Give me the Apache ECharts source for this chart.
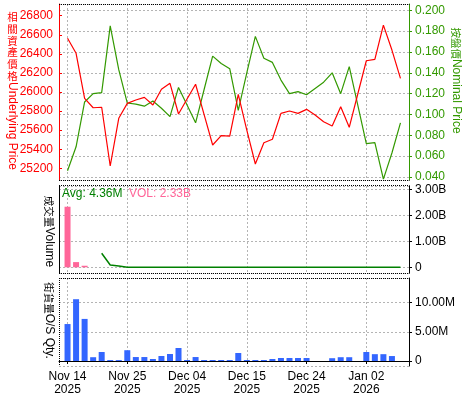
<!DOCTYPE html>
<html><head><meta charset="utf-8">
<script src="https://cdn.jsdelivr.net/npm/echarts@6/dist/echarts.min.js"></script>
<style>html,body{margin:0;padding:0;background:#fff}#c{width:475px;height:400px}</style>
</head><body><div id="c"></div>
<script>
// Weekday categories (first and last are empty padding days)
const dates = ['2025-11-13','2025-11-14','2025-11-17','2025-11-18','2025-11-19','2025-11-20','2025-11-21',
'2025-11-24','2025-11-25','2025-11-26','2025-11-27','2025-11-28','2025-12-01','2025-12-02','2025-12-03',
'2025-12-04','2025-12-05','2025-12-08','2025-12-09','2025-12-10','2025-12-11','2025-12-12','2025-12-15',
'2025-12-16','2025-12-17','2025-12-18','2025-12-19','2025-12-22','2025-12-23','2025-12-24','2025-12-25',
'2025-12-26','2025-12-29','2025-12-30','2025-12-31','2026-01-01','2026-01-02','2026-01-05','2026-01-06',
'2026-01-07','2026-01-08','2026-01-09'];
const underlying = [null,26563,26406,25934,25835,25840,25224,25724,25881,25916,25944,25863,26028,26091,25769,
25926,26081,25762,25444,25542,25538,25976,25601,25245,25468,25504,25776,25801,25776,25818,25759,25688,25643,
25846,25630,25979,26328,26343,26702,26440,26143,null];
const nominal = [null,0.046,0.069,0.112,0.120,0.121,0.185,0.143,0.111,0.110,0.108,0.113,0.106,0.098,0.126,
0.109,0.092,0.124,0.156,0.149,0.144,0.104,0.140,0.175,0.154,0.150,0.133,0.120,0.122,0.119,0.125,0.131,0.140,
0.120,0.146,0.109,0.072,0.073,0.038,0.063,0.092,null];
const volume = [null,2.33e9,0.20e9,0.06e9,0,0,0,0,0,0,0,0,0,0,0,0,0,0,0,0,0,0,0,0,0,0,0,0,0,0,null,null,0,0,0,null,0,0,0,0,0,null];
const volumeAvg = [null,null,null,null,null,0.54e9,0.09e9,0.05e9,0,0,0,0,0,0,0,0,0,0,0,0,0,0,0,0,0,0,0,0,0,0,0,0,0,0,0,0,0,0,0,0,0,null];
const osQty = [null,6.34e6,10.6e6,7.22e6,0.65e6,1.54e6,0.16e6,0.16e6,1.85e6,0.68e6,0.68e6,0.34e6,0.86e6,1.2e6,
2.23e6,0.17e6,0.68e6,0.17e6,0.17e6,0.17e6,0.17e6,1.37e6,0.17e6,0.17e6,0.17e6,0.34e6,0.51e6,0.51e6,0.51e6,0.51e6,
null,null,0.48e6,0.65e6,0.65e6,null,1.54e6,1.17e6,1.17e6,0.85e6,null,null];
const avgText = 'Avg: 4.36M';
const volText = 'VOL: 2.33B';
const leftTitleCJK = ['相','關','資','產','價','格'];

const FONT = '"Liberation Sans","Noto Sans CJK TC",sans-serif';
const CJK_FONT = '"Noto Sans CJK TC",sans-serif';
const MON = ['Jan','Feb','Mar','Apr','May','Jun','Jul','Aug','Sep','Oct','Nov','Dec'];
const tickFn = (i) => (i - 1) % 7 === 0 && i > 0;
const GRID_COLOR = '#b4b4b4';
const RED = '#ff0000', GREEN = '#339900';

function xAxis(gridIndex, show) {
  return {
    type: 'category', gridIndex, data: dates, boundaryGap: false,
    axisLine: { show, lineStyle: { color: '#000', width: 1 } },
    axisTick: { show, interval: tickFn, length: 3, lineStyle: { color: '#000' } },
    axisLabel: {
      show, interval: tickFn, margin: 4, color: '#000', fontFamily: FONT, fontSize: 12, lineHeight: 13,
      formatter: (v) => { const [y, m, d] = v.split('-'); return MON[+m - 1] + ' ' + d + '\n' + y; }
    },
    splitLine: { show: true, interval: tickFn, lineStyle: { color: GRID_COLOR, type: [2, 2] } }
  };
}
function yAxis(o) {
  return Object.assign({
    type: 'value', scale: true,
    axisLabel: { color: '#000', fontFamily: FONT, fontSize: 12, margin: 6, showMinLabel: false, showMaxLabel: false },
    axisTick: { show: true, length: 3 },
    axisLine: { show: true },
    splitLine: { show: true, lineStyle: { color: GRID_COLOR, type: [2, 2] } }
  }, o);
}
function hline(x1, x2, y, dash) {
  return { type: 'line', z: 100, silent: true, shape: { x1, y1: y, x2, y2: y }, style: { stroke: '#000', lineWidth: 1, lineDash: dash } };
}
function vline(x, y1, y2, dash) {
  return { type: 'line', z: 100, silent: true, shape: { x1: x, y1, x2: x, y2 }, style: { stroke: '#000', lineWidth: 1, lineDash: dash } };
}
function ttl(text, x, y, color, rot, align, vAlign, size) {
  return { type: 'text', z: 100, silent: true, x, y, rotation: rot || 0,
    style: { text, fill: color, fontFamily: FONT, fontSize: size || 12, align: align || 'center', verticalAlign: vAlign || 'middle' } };
}
function rotTitle(cjk, latin, x, y, color) {
  return { type: 'text', z: 100, silent: true, x, y, rotation: -Math.PI / 2,
    style: { text: '{c|' + cjk + '}{l|' + latin + '}', fill: color, align: 'center', verticalAlign: 'middle',
      rich: { c: { fontFamily: CJK_FONT, fontSize: 10.5, fill: color }, l: { fontFamily: FONT, fontSize: 12, fill: color } } } };
}

const graphics = [
  hline(59, 409.5, 4.5, [1, 1]), hline(59, 409.5, 180.5, [1, 1]),
  hline(59, 409.5, 185.5, [1, 1]), hline(59, 409.5, 273.5, [1, 1]),
  vline(59.5, 186, 273, null),
  hline(59, 409.5, 278.5, [1, 1]), vline(59.5, 278, 366, [1, 1]),
  ttl('Underlying Price', 12.5, 126, RED, -Math.PI / 2),
  rotTitle('按盤價', 'Nominal Price', 456, 80.5, GREEN),
  rotTitle('成交量', 'Volume', 49, 231.5, '#000'),
  rotTitle('街貨量', 'O/S Qty.', 49, 320.5, '#000'),
  ttl(avgText, 62, 194, '#008000', 0, 'left', 'middle'),
  ttl(volText, 129, 194, '#ff6699', 0, 'left', 'middle')
];
leftTitleCJK.forEach((ch, i) => {
  const t = ttl(ch, 12.5, 17 + i * 11.8, RED, 0, 'center', 'middle', 10.5);
  t.style.fontFamily = CJK_FONT;
  graphics.push(t);
});

const chart = echarts.init(document.getElementById('c'), null, { renderer: 'canvas' });
chart.setOption({
  animation: false,
  backgroundColor: '#fff',
  grid: [
    { left: 59, right: 66, top: 4, height: 176 },
    { left: 59, right: 66, top: 186, height: 87 },
    { left: 59, right: 66, top: 278, height: 88 }
  ],
  xAxis: [xAxis(0, false), xAxis(1, false), xAxis(2, true)],
  yAxis: [
    yAxis({ gridIndex: 0, position: 'left', min: 25077, max: 26923, splitNumber: 9, minInterval: 200, maxInterval: 200,
      axisLine: { show: true, lineStyle: { color: RED } },
      axisTick: { show: true, inside: true, length: 3, lineStyle: { color: RED } },
      axisLabel: { color: RED, fontFamily: FONT, fontSize: 12, margin: 6, showMinLabel: false, showMaxLabel: false,
        formatter: (v) => String(Math.round(v)) },
      splitLine: { show: false } }),
    yAxis({ gridIndex: 0, position: 'right', min: 0.03712, max: 0.20605, splitNumber: 8, minInterval: 0.02, maxInterval: 0.02,
      axisLine: { show: true, lineStyle: { color: GREEN } },
      axisTick: { show: true, length: 3, lineStyle: { color: GREEN } },
      axisLabel: { color: GREEN, fontFamily: FONT, fontSize: 12, margin: 6, showMinLabel: false, showMaxLabel: false,
        formatter: (v) => v.toFixed(3) } }),
    yAxis({ gridIndex: 1, position: 'right', min: -0.219e9, max: 3.127e9, splitNumber: 3, minInterval: 1e9, maxInterval: 1e9,
      axisLine: { show: true, lineStyle: { color: '#000' } },
      axisTick: { show: true, length: 3, lineStyle: { color: '#000' } },
      axisLabel: { color: '#000', fontFamily: FONT, fontSize: 12, margin: 6, showMinLabel: false, showMaxLabel: false,
        formatter: (v) => Math.abs(v) < 1 ? '0' : (v / 1e9).toFixed(2) + 'B' } }),
    yAxis({ gridIndex: 2, position: 'right', min: -0.858e6, max: 14.24e6, splitNumber: 3, minInterval: 5e6, maxInterval: 5e6,
      axisLine: { show: true, lineStyle: { color: '#000' } },
      axisTick: { show: true, length: 3, lineStyle: { color: '#000' } },
      axisLabel: { color: '#000', fontFamily: FONT, fontSize: 12, margin: 6, showMinLabel: false, showMaxLabel: false,
        formatter: (v) => Math.abs(v) < 1 ? '0' : (v / 1e6).toFixed(2) + 'M' } })
  ],
  series: [
    { name: 'Underlying', type: 'line', xAxisIndex: 0, yAxisIndex: 0, data: underlying, showSymbol: false,
      lineStyle: { color: RED, width: 1.2 }, itemStyle: { color: RED }, z: 3 },
    { name: 'Nominal', type: 'line', xAxisIndex: 0, yAxisIndex: 1, data: nominal, showSymbol: false,
      lineStyle: { color: GREEN, width: 1.2 }, itemStyle: { color: GREEN }, z: 2 },
    { name: 'Volume', type: 'bar', xAxisIndex: 1, yAxisIndex: 2, data: volume, barWidth: 6,
      itemStyle: { color: '#ff6699' } },
    { name: 'VolAvg', type: 'line', xAxisIndex: 1, yAxisIndex: 2, data: volumeAvg, showSymbol: false,
      lineStyle: { color: '#008000', width: 1.5 }, itemStyle: { color: '#008000' } },
    { name: 'OSQty', type: 'bar', xAxisIndex: 2, yAxisIndex: 3, data: osQty, barWidth: 6,
      itemStyle: { color: '#3366ff' } }
  ],
  graphic: graphics
});
</script></body></html>
